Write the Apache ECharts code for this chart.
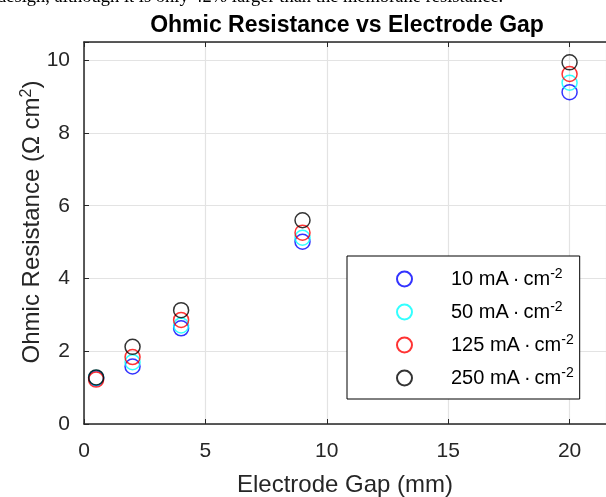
<!DOCTYPE html>
<html>
<head>
<meta charset="utf-8">
<script src="https://cdn.jsdelivr.net/npm/echarts@6/dist/echarts.min.js"></script>
<style>
  html, body { margin: 0; padding: 0; background: #fff; }
  #chart { width: 606px; height: 497px; }
</style>
</head>
<body>
<div id="chart"></div>
<script>
// electrode gap (mm)
const gaps = [0.5, 2, 4, 9, 20];
// ohmic resistance (ohm cm2) per current density
const r10 = [1.26, 1.58, 2.63, 5.01, 9.12];
const r50 = [1.27, 1.70, 2.71, 5.12, 9.38];
const r125 = [1.22, 1.84, 2.86, 5.26, 9.62];
const r250 = [1.28, 2.12, 3.13, 5.60, 9.94];
const seriesNames = ['10 mA\u2009·\u2009cm', '50 mA\u2009·\u2009cm', '125 mA\u2009·\u2009cm', '250 mA\u2009·\u2009cm'];
const seriesColors = ['#0000ff', '#00ffff', '#ff0000', '#000000'];
const seriesData = [r10, r50, r125, r250];

const font = '"Liberation Sans", Arial, sans-serif';
const axisColor = '#262626';

const chart = echarts.init(document.getElementById('chart'));

// only label the multiples of the interval, not the odd max
const tickLabel = step => v => (Math.abs(v / step - Math.round(v / step)) < 1e-6 ? String(v) : '');

const series = seriesData.map((vals, i) => ({
    name: seriesNames[i],
    type: 'scatter',
    symbol: 'circle',
    symbolSize: 15,
    itemStyle: { color: 'rgba(0,0,0,0)', borderColor: seriesColors[i], borderWidth: 1.5 },
    data: gaps.map((g, j) => [g, vals[j]]),
    z: 10 + i
}));

const option = {
    backgroundColor: '#fff',
    animation: false,
    title: {
        text: 'Ohmic Resistance vs Electrode Gap',
        left: 342,
        top: 9,
        textAlign: 'center',
        textStyle: { fontFamily: font, fontSize: 23, fontWeight: 'bold', color: '#000' }
    },
    graphic: [{
        type: 'text',
        left: -3,
        top: -12,
        style: {
            text: 'design, although it is only 42% larger than the membrane resistance.',
            font: '18.5px "Liberation Serif", "Times New Roman", serif',
            fill: '#000'
        }
    }],
    grid: { left: 84, right: 0, top: 42, bottom: 73, containLabel: false, outerBoundsMode: 'none' },
    legend: {
        orient: 'vertical',
        left: 347,
        top: 256,
        padding: [11, 6, 11, 49],
        itemGap: 11,
        itemWidth: 15,
        itemHeight: 15,
        borderColor: '#000',
        borderWidth: 1,
        backgroundColor: '#fff',
        data: seriesNames,
        // p is an empty spacer between the marker and the text
        formatter: name => '{p|}{b|' + name + '}{s|-2}',
        textStyle: {
            fontFamily: font,
            color: '#000',
            rich: {
                p: { width: 34, lineHeight: 24 },
                b: { fontFamily: font, fontSize: 20, lineHeight: 24, color: '#000' },
                s: { fontFamily: font, fontSize: 14, lineHeight: 20, verticalAlign: 'top', color: '#000' }
            }
        }
    },
    xAxis: [{
        type: 'value',
        min: 0,
        max: 21.5,
        interval: 5,
        name: 'Electrode Gap (mm)',
        nameLocation: 'middle',
        nameGap: 49,
        nameMoveOverlap: false,
        nameTextStyle: { fontFamily: font, fontSize: 24, color: axisColor },
        axisLine: { show: true, onZero: false, lineStyle: { color: axisColor, width: 1.5 } },
        axisTick: { show: true, inside: true, length: 5, lineStyle: { color: axisColor } },
        axisLabel: { fontFamily: font, fontSize: 21, color: axisColor, margin: 17, formatter: tickLabel(5) },
        splitLine: { show: true, lineStyle: { color: '#e3e3e3', width: 1.2 } }
    }, {
        type: 'value',
        position: 'top',
        min: 0,
        max: 21.5,
        interval: 5,
        axisLine: { show: true, onZero: false, lineStyle: { color: axisColor, width: 1.5 } },
        axisTick: { show: true, inside: true, length: 5, lineStyle: { color: axisColor } },
        axisLabel: { show: false },
        splitLine: { show: false }
    }],
    yAxis: [{
        type: 'value',
        min: 0,
        max: 10.5,
        interval: 2,
        name: 'Ohmic Resistance (Ω cm{s|2})',
        nameLocation: 'middle',
        nameRotate: 90,
        nameGap: 38,
        nameMoveOverlap: false,
        nameTextStyle: {
            fontFamily: font, fontSize: 24, color: axisColor,
            padding: [0, 0, 0, 22],
            rich: {
                s: { fontFamily: font, fontSize: 16, verticalAlign: 'top', lineHeight: 27, color: axisColor }
            }
        },
        axisLine: { show: true, onZero: false, lineStyle: { color: axisColor, width: 1.5 } },
        axisTick: { show: true, inside: true, length: 5, lineStyle: { color: axisColor } },
        axisLabel: { fontFamily: font, fontSize: 21, color: axisColor, margin: 14, formatter: tickLabel(2) },
        splitLine: { show: true, lineStyle: { color: '#e3e3e3', width: 1.2 } }
    }],
    series: series
};

chart.setOption(option);
</script>
</body>
</html>
